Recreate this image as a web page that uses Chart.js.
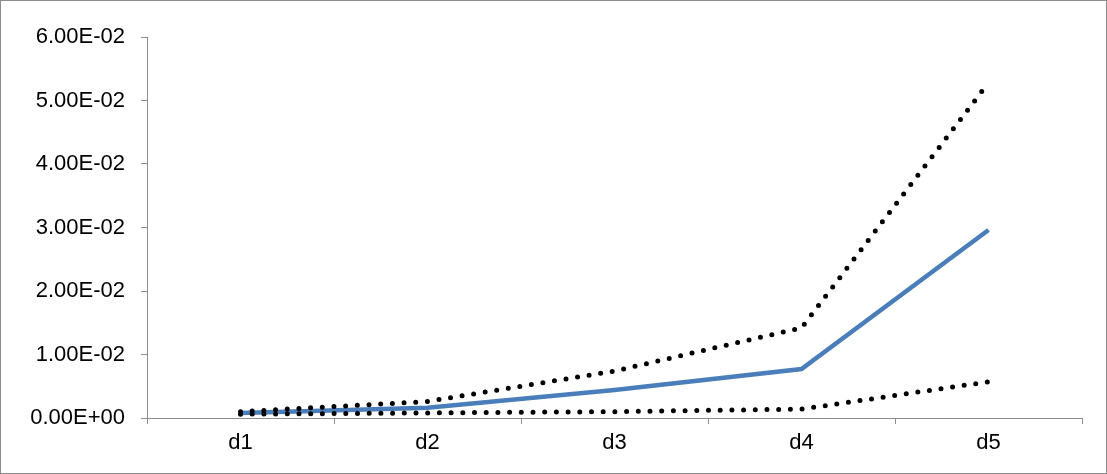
<!DOCTYPE html>
<html>
<head>
<meta charset="utf-8">
<script src="https://cdn.jsdelivr.net/npm/chart.js@4/dist/chart.umd.min.js"></script>
<style>
  body { margin: 0; background: #fff; }
  #wrap { position: relative; width: 1107px; height: 474px; }
  #frame { position: absolute; left: 0; top: 0; width: 1107px; height: 474px;
           box-sizing: border-box; border: 1px solid #8c8c8c; pointer-events: none; }
</style>
</head>
<body>
<div id="wrap">
  <canvas id="chartjs-0" width="1107" height="474"></canvas>
  <div id="frame"></div>
</div>
<script>
"use strict";

var categories = ["d1", "d2", "d3", "d4", "d5"];
var meanValues = [0.0008, 0.0016, 0.0044, 0.0077, 0.0296];
var upperValues = [0.0010, 0.0026, 0.0074, 0.0142, 0.0528];
var lowerValues = [0.0006, 0.0008, 0.0010, 0.0014, 0.0057];
var yTickValues = [0, 0.01, 0.02, 0.03, 0.04, 0.05, 0.06];
var yTickLabels = ["0.00E+00", "1.00E-02", "2.00E-02", "3.00E-02", "4.00E-02", "5.00E-02", "6.00E-02"];

var axisGray = "#8c8c8c";
var labelFont = { family: "'Liberation Sans', Arial, sans-serif", size: 22 };

let ctx0 = document.getElementById("chartjs-0");
var myChart = new Chart(ctx0, {
  type: "line",
  data: {
    labels: categories,
    datasets: [
      {
        label: "upper",
        data: upperValues,
        borderColor: "#000000",
        borderWidth: 5,
        borderDash: [0, 11.7],
        borderCapStyle: "round",
        pointRadius: 0,
        fill: false,
        tension: 0,
        order: 0
      },
      {
        label: "lower",
        data: lowerValues,
        borderColor: "#000000",
        borderWidth: 5,
        borderDash: [0, 11.7],
        borderCapStyle: "round",
        pointRadius: 0,
        fill: false,
        tension: 0,
        order: 0
      },
      {
        label: "mean",
        data: meanValues,
        borderColor: "rgb(74, 126, 187)",
        borderWidth: 4.5,
        pointRadius: 0,
        fill: false,
        tension: 0,
        order: 1
      }
    ]
  },
  options: {
    responsive: false,
    animation: false,
    layout: { padding: { left: 0, right: 25, top: 37, bottom: 0 } },
    plugins: {
      legend: { display: false },
      tooltip: { enabled: false }
    },
    scales: {
      x: {
        offset: true,
        grid: {
          offset: true,
          drawOnChartArea: false,
          drawTicks: true,
          tickLength: 6,
          color: axisGray
        },
        border: { display: true, color: axisGray, width: 1 },
        ticks: { color: "#000", font: labelFont, padding: 6, maxRotation: 0 },
        afterFit: function (scale) { scale.height = 56; }
      },
      y: {
        min: 0,
        max: 0.06,
        afterBuildTicks: function (scale) {
          scale.ticks = yTickValues.map(function (v) { return { value: v }; });
        },
        grid: {
          drawOnChartArea: false,
          drawTicks: true,
          tickLength: 6,
          color: axisGray
        },
        border: { display: true, color: axisGray, width: 1 },
        ticks: {
          color: "#000",
          font: labelFont,
          padding: 16,
          callback: function (value, index) { return yTickLabels[index]; }
        },
        afterFit: function (scale) { scale.width = 147; }
      }
    }
  }
});
</script>
</body>
</html>
